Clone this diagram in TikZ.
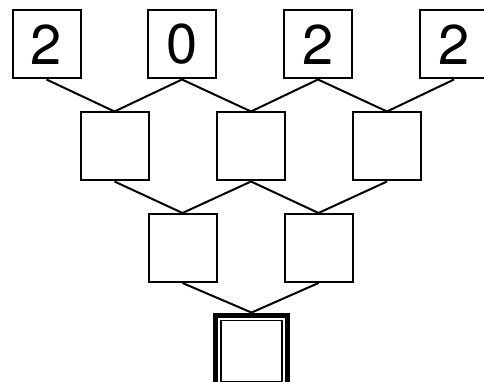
\documentclass[tikz,border=0pt]{standalone}
\usepackage{fontspec}
\setmainfont{TeX Gyre Heros}
\tikzset{
  digit/.style={draw, line width=1.5pt, minimum size=51pt, inner sep=0pt, font=\fontsize{42}{42}\selectfont},
  cell/.style={draw, line width=1.5pt, minimum size=51pt, inner sep=0pt},
  link/.style={line width=1.5pt}
}
\begin{document}
\begin{tikzpicture}[x=0.75pt, y=0.75pt]
\useasboundingbox (0,0) rectangle (484,381);

% Digits on top
\node[digit] (d1) at (46.5, 336.5) {2};
\node[digit] (d2) at (182, 336.5) {0};
\node[digit] (d3) at (318, 336.5) {2};
\node[digit] (d4) at (454, 336.5) {2};

% Second row
\node[cell] (m1) at (114.5, 234.5) {};
\node[cell] (m2) at (251, 234.5) {};
\node[cell] (m3) at (387, 234.5) {};

% Third row
\node[cell] (n1) at (182.5, 133) {};
\node[cell] (n2) at (318.5, 133) {};

% Result box (thick frame with thin frame inside)
\node[draw, line width=3.75pt, minimum size=53.5pt, inner sep=0pt] (outbox) at (251.5, 30.25) {};
\node[draw, line width=1.1pt, minimum size=45.75pt, inner sep=0pt] (inbox) at (outbox) {};

% Links
\draw[link] (d1.south) -- (m1.north);
\draw[link] (d2.south) -- (m1.north);
\draw[link] (d2.south) -- (m2.north);
\draw[link] (d3.south) -- (m2.north);
\draw[link] (d3.south) -- (m3.north);
\draw[link] (d4.south) -- (m3.north);
\draw[link] (m1.south) -- (n1.north);
\draw[link] (m2.south) -- (n1.north);
\draw[link] (m2.south) -- (n2.north);
\draw[link] (m3.south) -- (n2.north);
\draw[link] (n1.south) -- (outbox.north);
\draw[link] (n2.south) -- (outbox.north);

\end{tikzpicture}
\end{document}
